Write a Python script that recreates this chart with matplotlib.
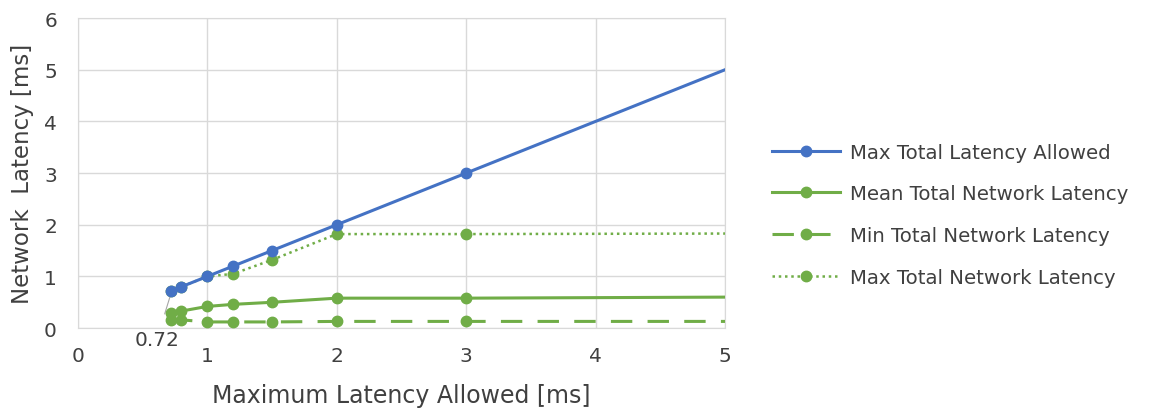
import matplotlib.pyplot as plt

plt.rcParams['font.family'] = ['DejaVu Sans']

# Data
x = [0.72, 0.8, 1.0, 1.2, 1.5, 2.0, 3.0, 5.0]
max_allowed = [0.72, 0.8, 1.0, 1.2, 1.5, 2.0, 3.0, 5.0]
mean_net = [0.30, 0.33, 0.42, 0.46, 0.50, 0.58, 0.58, 0.60]
min_net = [0.16, 0.16, 0.12, 0.12, 0.12, 0.13, 0.13, 0.13]
max_net = [0.72, 0.80, 1.00, 1.05, 1.32, 1.82, 1.82, 1.83]

blue = '#4472C4'
green = '#70AD47'
grid = '#D9D9D9'
txt = '#404040'

fig = plt.figure(figsize=(11.61, 4.14), dpi=100)
ax = fig.add_axes([0.067, 0.205, 0.5575, 0.749])

n = 7  # markers only on the first points
ax.plot(x, max_allowed, color=blue, lw=2.2, marker='o', ms=7.5,
        markevery=list(range(n)), label='Max Total Latency Allowed', zorder=5)
ax.plot(x, mean_net, color=green, lw=2.2, marker='o', ms=7.5,
        markevery=list(range(n)), label='Mean Total Network Latency', zorder=4)
ax.plot(x, min_net, color=green, lw=2.2, marker='o', ms=7.5, dashes=(7, 5),
        markevery=list(range(n)), label='Min Total Network Latency', zorder=4)
ax.plot(x, max_net, color=green, lw=1.8, marker='o', ms=7.5, linestyle=(0, (1, 1.5)),
        markevery=list(range(n)), label='Max Total Network Latency', zorder=4)

# data label with leader line
ax.annotate('0.72', xy=(0.72, 0.67), xytext=(0.61, -0.22), fontsize=14.5,
            ha='center', va='center', color=txt, annotation_clip=False,
            arrowprops=dict(arrowstyle='-', color='#A6A6A6', lw=0.8, shrinkA=10, shrinkB=0))

ax.set_xlim(0, 5)
ax.set_ylim(0, 6)
ax.set_xticks(range(0, 6))
ax.set_yticks(range(0, 7))
ax.grid(True, color=grid, lw=1)
ax.set_axisbelow(True)
for s in ax.spines.values():
    s.set_color(grid)
ax.tick_params(axis='x', length=0, labelsize=14.5, colors=txt, pad=13)
ax.tick_params(axis='y', length=0, labelsize=14.5, colors=txt, pad=15)
ax.set_xlabel('Maximum Latency Allowed [ms]', fontsize=17, color=txt, labelpad=13)
ax.set_ylabel('Network  Latency [ms]', fontsize=16.5, color=txt, labelpad=7)

ax.legend(loc='center left', bbox_to_anchor=(1.045, 0.366), frameon=False,
          fontsize=14.2, handlelength=3.45, labelspacing=1.15, handletextpad=0.5,
          labelcolor=txt)

fig.savefig('out.png', dpi=100)
